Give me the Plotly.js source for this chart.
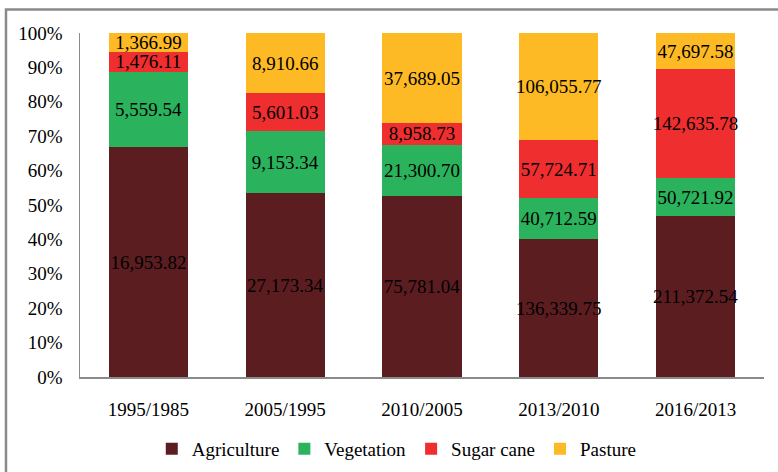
<!DOCTYPE html>
<html>
<head>
<meta charset="utf-8">
<script src="https://cdn.plot.ly/plotly-3.0.1.min.js"></script>
<style>html,body{margin:0;padding:0;background:#fff;}#chart{width:778px;height:472px;}</style>
</head>
<body>
<div id="chart"></div>
<script>
const categories = ["1995/1985", "2005/1995", "2010/2005", "2013/2010", "2016/2013"];
const agriculture = [16953.82, 27173.34, 75781.04, 136339.75, 211372.54];
const vegetation = [5559.54, 9153.34, 21300.70, 40712.59, 50721.92];
const sugarCane = [1476.11, 5601.03, 8958.73, 57724.71, 142635.78];
const pasture = [1366.99, 8910.66, 37689.05, 106055.77, 47697.58];
const yTickVals = [0, 10, 20, 30, 40, 50, 60, 70, 80, 90, 100];
const yTickText = ["0%", "10%", "20%", "30%", "40%", "50%", "60%", "70%", "80%", "90%", "100%"];

const FONT = 'Liberation Serif, Times New Roman, Times, serif';
const fmt = v => v.toLocaleString('en-US', {minimumFractionDigits: 2, maximumFractionDigits: 2});

function series(name, vals, color) {
  return {
    type: 'bar', name: name, x: categories, y: vals,
    marker: {color: color, line: {width: 0}},
    text: vals.map(fmt), textposition: 'inside', insidetextanchor: 'middle',
    textangle: 0, constraintext: 'none', cliponaxis: false,
    textfont: {family: FONT, size: 19, color: '#000'},
    hoverinfo: 'name+text'
  };
}

const data = [
  series('Agriculture', agriculture, '#5C1D21'),
  series('Vegetation', vegetation, '#2BB25C'),
  series('Sugar cane', sugarCane, '#EE2E2F'),
  series('Pasture', pasture, '#FDBA24')
];

const layout = {
  width: 778, height: 472,
  margin: {l: 80, r: 14, t: 33, b: 94.5, autoexpand: false},
  paper_bgcolor: '#fff', plot_bgcolor: '#fff',
  font: {family: FONT, size: 19, color: '#000'},
  barmode: 'stack', barnorm: 'percent', bargap: 0.42,
  showlegend: true,
  legend: {orientation: 'h', xref: 'container', yref: 'container', x: 0.51, xanchor: 'center', y: 0.049, yanchor: 'middle',
           font: {family: FONT, size: 19, color: '#000'}, itemwidth: 30, traceorder: 'normal',
           itemclick: false},
  xaxis: {type: 'category', showgrid: false, zeroline: false, showline: true, linecolor: '#8a8a8a', linewidth: 1.5,
          ticks: '', ticklabelstandoff: 15, tickfont: {family: FONT, size: 19, color: '#000'}, fixedrange: true},
  yaxis: {range: [0, 100.0005], tickvals: yTickVals, ticktext: yTickText, showgrid: false, zeroline: false,
          showline: true, linecolor: '#8a8a8a', linewidth: 1.5, ticks: '', ticklabelstandoff: 12,
          tickfont: {family: FONT, size: 19, color: '#000'}, fixedrange: true},
  shapes: [{type: 'path', xref: 'paper', yref: 'paper',
            path: 'M -0.1082,-0.6 L -0.1082,1.0682 L 1.1,1.0682',
            line: {color: '#8a8a8a', width: 2.5}}]
};

Plotly.newPlot('chart', data, layout, {displayModeBar: false, staticPlot: true});
</script>
</body>
</html>
